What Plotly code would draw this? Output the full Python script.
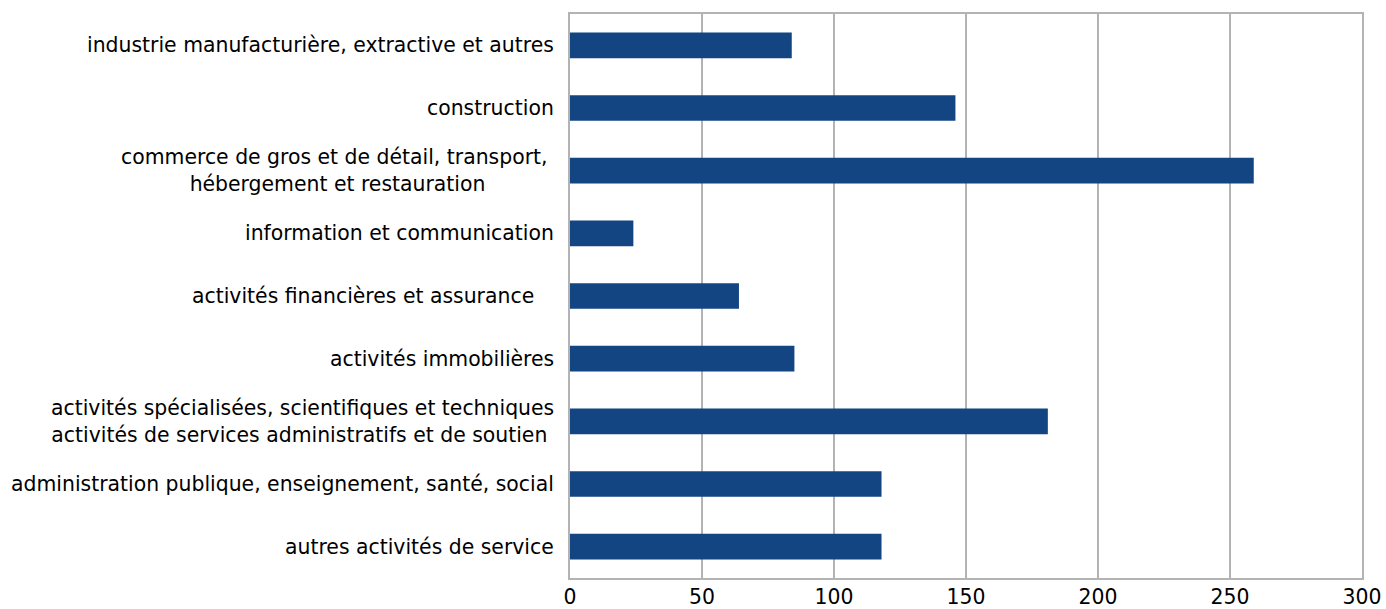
import plotly.graph_objects as go

# Number per sector (horizontal bar chart)
categories = [
    "industrie manufacturière, extractive et autres",
    "construction",
    "commerce de gros et de détail, transport,\u00a0<br>hébergement et restauration",
    "information et communication",
    "activités financières et assurance\u00a0\u00a0\u00a0",
    "activités immobilières",
    "activités spécialisées, scientifiques et techniques<br>activités de services administratifs et de soutien\u00a0",
    "administration publique, enseignement, santé, social",
    "autres activités de service",
]
values = [84, 146, 259, 24, 64, 85, 181, 118, 118]
x_ticks = [0, 50, 100, 150, 200, 250, 300]

FONT = "DejaVu Sans"
GRID = "#b3b3b3"
BAR = "#144583"
FS = 20.4

positions = list(range(len(categories)))

fig = go.Figure(
    go.Bar(
        x=values,
        y=positions,
        orientation="h",
        marker=dict(color=BAR, line=dict(width=0)),
        width=0.41,
        hoverinfo="x",
    )
)

# Category labels as centred, right-anchored annotations
for pos, label in zip(positions, categories):
    fig.add_annotation(
        x=0, xref="paper", xanchor="right", xshift=-14,
        y=pos, yref="y", yanchor="middle",
        text=label, showarrow=False, align="center",
        font=dict(family=FONT, size=FS, color="#000000"),
    )

fig.update_layout(
    width=1386, height=609,
    margin=dict(l=570, r=24, t=14, b=31),
    paper_bgcolor="white", plot_bgcolor="white",
    showlegend=False,
    font=dict(family=FONT, size=FS, color="#000000"),
    xaxis=dict(
        range=[0, 300], tickvals=x_ticks, ticks="",
        showgrid=True, gridcolor=GRID, gridwidth=2,
        showline=True, linecolor=GRID, linewidth=2, mirror=True,
        zeroline=False, tickfont=dict(family=FONT, size=FS),
        automargin=False, fixedrange=True,
    ),
    yaxis=dict(
        range=[len(categories) - 0.5, -0.5], showticklabels=False, ticks="",
        showgrid=False, zeroline=False,
        showline=True, linecolor=GRID, linewidth=2, mirror=True,
        automargin=False, fixedrange=True,
    ),
)

fig.write_html("out.html")
